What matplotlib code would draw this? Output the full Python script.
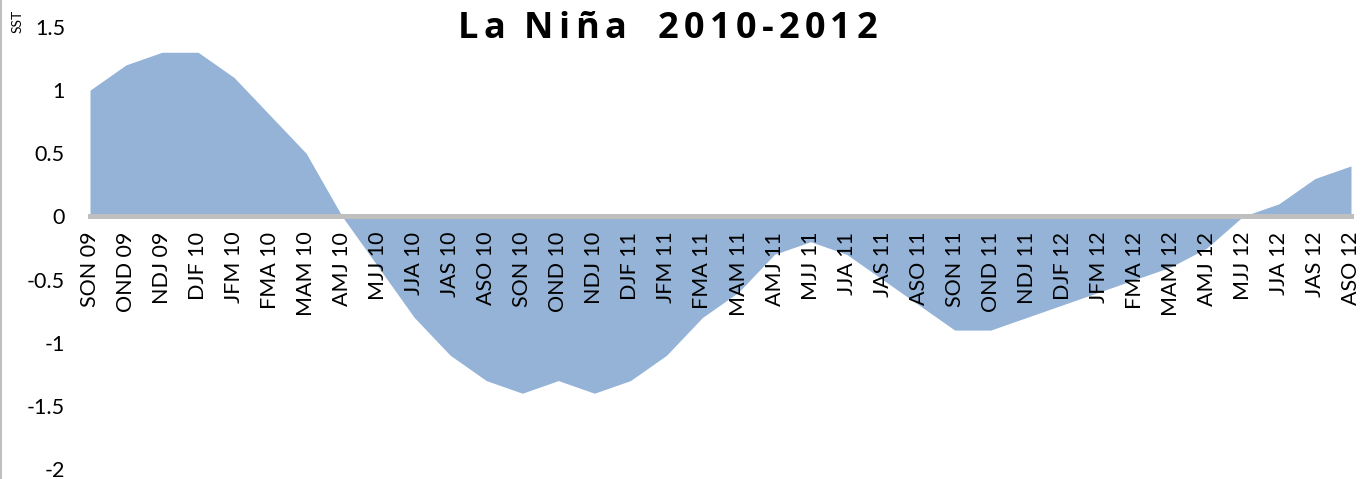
import matplotlib
matplotlib.use("Agg")
import matplotlib.pyplot as plt
from matplotlib.lines import Line2D

plt.rcParams['font.family'] = ['Lato', 'DejaVu Sans']
plt.rcParams['axes.unicode_minus'] = False

# 3-month seasons and SST anomaly values
seasons = ["SON 09", "OND 09", "NDJ 09", "DJF 10", "JFM 10", "FMA 10", "MAM 10",
           "AMJ 10", "MJJ 10", "JJA 10", "JAS 10", "ASO 10", "SON 10", "OND 10",
           "NDJ 10", "DJF 11", "JFM 11", "FMA 11", "MAM 11", "AMJ 11", "MJJ 11",
           "JJA 11", "JAS 11", "ASO 11", "SON 11", "OND 11", "NDJ 11", "DJF 12",
           "JFM 12", "FMA 12", "MAM 12", "AMJ 12", "MJJ 12", "JJA 12", "JAS 12",
           "ASO 12"]
sst = [1.0, 1.2, 1.3, 1.3, 1.1, 0.8, 0.5,
       0.0, -0.4, -0.8, -1.1, -1.3, -1.4, -1.3,
       -1.4, -1.3, -1.1, -0.8, -0.6, -0.3, -0.2,
       -0.3, -0.5, -0.7, -0.9, -0.9, -0.8, -0.7,
       -0.6, -0.5, -0.4, -0.25, 0.0, 0.1, 0.3,
       0.4]
y_ticks = [-2, -1.5, -1, -0.5, 0, 0.5, 1, 1.5]
y_labels = ["-2", "-1.5", "-1", "-0.5", "0", "0.5", "1", "1.5"]
title = "La Niña  2010-2012"

W, H = 1361, 479
fig = plt.figure(figsize=(W / 100, H / 100), dpi=100)
ax = fig.add_axes([90 / W, 10 / H, (1351 - 90) / W, (470 - 28) / H])

# move the x axis to the zero line first (this resets the ticks)
for s in ["left", "top", "right"]:
    ax.spines[s].set_visible(False)
ax.spines["bottom"].set_position(("data", 0))
ax.spines["bottom"].set_color("#BFBFBF")
ax.spines["bottom"].set_linewidth(3.6)

x = list(range(len(seasons)))
ax.fill_between(x, sst, 0, color="#95B3D7", linewidth=0)

ax.set_xlim(0, len(seasons) - 1)
ax.set_ylim(-2, 1.5)
ax.set_yticks(y_ticks, y_labels, fontsize=15.5)
ax.set_xticks(x, seasons, fontsize=15.5)
plt.setp(ax.get_xticklabels(), rotation=90, ha="center", va="top")
ax.tick_params(axis="both", length=0)
ax.tick_params(axis="y", pad=18)
ax.tick_params(axis="x", pad=11)

fig.text(18 / W, 1 - 21 / H, "SST", rotation=90, fontsize=10, ha="center", va="center")

# title with wide letter spacing, placed char by char
tfont = dict(fontsize=26, fontweight="bold", family=["Open Sans", "DejaVu Sans"])
renderer = fig.canvas.get_renderer()
widths = []
for ch in title:
    t = fig.text(0, 0, ch if ch != " " else "a", **tfont)
    w = t.get_window_extent(renderer).width
    if ch == " ":
        w = w * 0.35
    widths.append(w)
    t.remove()
total = 419
gap = (total - sum(widths)) / (len(title) - 1)
xpos = 458
for ch, w in zip(title, widths):
    if ch != " ":
        fig.text(xpos / W, 1 - 29 / H, ch, va="center", **tfont)
    xpos += w + gap

fig.add_artist(Line2D([1 / W, 1 / W], [0, 1], color="#BFBFBF", linewidth=1.5))

fig.savefig("out.png", dpi=100)
